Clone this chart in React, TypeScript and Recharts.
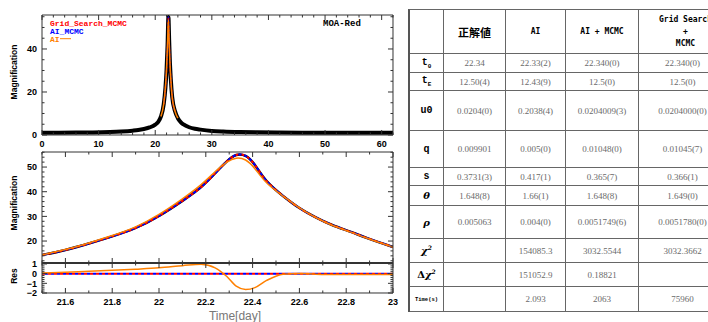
import React from 'react';
import {Line, LineChart, XAxis, YAxis} from 'recharts';

// ---- full light curve (top panel) ----
const fullTime = [0, 3, 6, 9, 12, 14, 16, 17, 18, 19, 20, 20.5, 21, 21.5, 21.8, 22, 22.18, 22.33, 22.46, 22.6, 22.74, 23, 23.5, 24, 24.5, 25, 26, 27, 28, 30, 32, 35, 38, 42, 46, 50, 55, 62];
const fullData = [1.06, 1.08, 1.11, 1.16, 1.35, 1.6, 2.0, 2.3, 2.8, 3.5, 4.8, 6.0, 8.5, 14.3, 21.9, 30.2, 41.9, 54.9, 44.3, 33.4, 26.5, 17.6, 11.0, 7.8, 6.0, 4.9, 3.6, 2.9, 2.5, 1.9, 1.6, 1.35, 1.22, 1.13, 1.08, 1.05, 1.03, 1.02];
const fullAI = [null, null, null, null, null, null, null, null, null, null, null, null, 8.6, 14.4, 22.2, 30.8, 42.9, 53.6, 43.6, 33.4, 26.4, 17.5, 11.0, 7.8, null, null, null, null, null, null, null, null, null, null, null, null, null, null];
const fullMCMC = [null, null, null, null, null, null, null, null, null, null, null, null, null, 14.3, 21.9, 30.2, 41.9, 54.9, 44.3, 33.4, 26.5, 17.6, 11.0, null, null, null, null, null, null, null, null, null, null, null, null, null, null, null];

// ---- zoom on the peak (middle panel) ----
const zoomTime = [21.5, 21.6, 21.7, 21.8, 21.9, 22.0, 22.1, 22.18, 22.24, 22.29, 22.33, 22.37, 22.41, 22.46, 22.53, 22.6, 22.67, 22.74, 22.82, 22.89, 23.0];
const zoomData = [14.3, 16.4, 19.0, 21.9, 25.3, 30.2, 36.3, 41.9, 47.5, 52.3, 54.9, 54.5, 50.8, 44.3, 38.3, 33.4, 29.6, 26.5, 23.7, 21.2, 17.6];
const zoomGrid = [14.3, 16.4, 19.0, 21.9, 25.3, 30.2, 36.3, 41.9, 47.5, 52.3, 54.9, 54.5, 50.8, 44.3, 38.3, 33.4, 29.6, 26.5, 23.7, 21.2, 17.6];
const zoomAIMCMC = [14.3, 16.4, 19.0, 21.9, 25.3, 30.2, 36.3, 41.9, 47.5, 52.3, 54.9, 54.5, 50.8, 44.3, 38.3, 33.4, 29.6, 26.5, 23.7, 21.2, 17.6];
const zoomAI = [14.37, 16.55, 19.24, 22.24, 25.76, 30.8, 37.12, 42.88, 48.1, 52.0, 53.6, 52.85, 49.35, 43.6, 38.25, 33.42, 29.55, 26.42, 23.6, 21.1, 17.52];

// ---- residuals (bottom panel) ----
const resAI = [0.07, 0.15, 0.24, 0.34, 0.46, 0.6, 0.82, 0.98, 0.6, -0.3, -1.3, -1.65, -1.45, -0.7, -0.05, 0.02, -0.05, -0.08, -0.1, -0.1, -0.08];
const resGrid = [0, 0, 0, 0, 0, 0, 0, 0, 0, 0, 0, 0, 0, 0, 0, 0, 0, 0, 0, 0, 0];
const resAIMCMC = [0, 0, 0, 0, 0, 0, 0, 0, 0, 0, 0, 0, 0, 0, 0, 0, 0, 0, 0, 0, 0];

// ---- ticks ----
const fullXMajor = [0, 10, 20, 30, 40, 50, 60];
const fullYMajor = [0, 20, 40];
const zoomXMajor = [21.6, 21.8, 22, 22.2, 22.4, 22.6, 22.8, 23];
const zoomYMajor = [20, 30, 40, 50];
const resYMajor = [-2, -1, 0, 1];

// ---- table ----
const colHeads = ['', '正解値', 'AI', 'AI + MCMC', 'Grid Search\n+\nMCMC'];
const paramNames = ['t0', 'tE', 'u0', 'q', 's', 'θ', 'ρ', 'χ2', 'Δχ2', 'Time(s)'];
const trueValues = ['22.34', '12.50(4)', '0.0204(0)', '0.009901', '0.3731(3)', '1.648(8)', '0.005063', '', '', ''];
const aiValues = ['22.33(2)', '12.43(9)', '0.2038(4)', '0.005(0)', '0.417(1)', '1.66(1)', '0.004(0)', '154085.3', '151052.9', '2.093'];
const aiMcmcValues = ['22.340(0)', '12.5(0)', '0.0204009(3)', '0.01048(0)', '0.365(7)', '1.648(8)', '0.0051749(6)', '3032.5544', '0.18821', '2063'];
const gridValues = ['22.340(0)', '12.5(0)', '0.0204000(0)', '0.01045(7)', '0.366(1)', '1.649(0)', '0.0051780(0)', '3032.3662', '', '75960'];

const colWidths = [34, 62, 60, 73, 94];
const rowHeights = [44, 19, 18, 40, 37, 18, 20, 33, 24, 24, 25];

const W = 400;
const H = 322;
const PLOT_LEFT = 42;
const PLOT_RIGHT = 393;
const THIN = 0.01;
const axisStroke = '#333';
const tickFont: React.CSSProperties = {fontFamily: 'Liberation Sans', fontWeight: 700, fontSize: 9, fill: '#000'};

const range = (a: number, b: number, step: number) => {
    const out: number[] = [];
    for (let v = a; v <= b + 1e-9; v += step) out.push(Math.round(v * 1000) / 1000);
    return out;
};
const merge = (a: number[], b: number[]) =>
    Array.from(new Set([...a, ...b].map(v => Math.round(v * 1000) / 1000))).sort((x, y) => x - y);

type Side = 'bottom' | 'top' | 'left' | 'right';

// inward ticks on every side, longer for major ones, like the plotting package of the original
const tickFactory = (side: Side, majors: number[], label: boolean, fmt: (v: number) => string = String) =>
    (p: any) => {
        const v = Number(p.payload.value);
        const major = majors.some(m => Math.abs(m - v) < 1e-6);
        const len = major ? 5 : 2.5;
        const dx = side === 'left' ? len : side === 'right' ? -len : 0;
        const dy = side === 'bottom' ? -len : side === 'top' ? len : 0;
        return (
            <g>
                <line x1={p.x} y1={p.y} x2={p.x + dx} y2={p.y + dy} stroke={axisStroke} strokeWidth={1}/>
                {label && major && side === 'bottom' && (
                    <text x={p.x} y={p.y + 12} textAnchor="middle" style={tickFont}>{fmt(v)}</text>
                )}
                {label && major && side === 'left' && (
                    <text x={p.x - 5} y={p.y + 3.3} textAnchor="end" style={tickFont}>{fmt(v)}</text>
                )}
            </g>
        );
    };

interface PanelProps {
    rows: any[];
    plotTop: number;
    plotBottom: number;
    xDomain: [number, number];
    yDomain: [number, number];
    xMajor: number[];
    xMinorStep: number;
    yMajor: number[];
    yMinorStep: number;
    xLabels: boolean;
    yFmt?: (v: number) => string;
    topWidth?: number;
    bottomWidth?: number;
    hiddenKey: string;
    children: React.ReactNode;
}

const Panel = (props: PanelProps) => {
    const {rows, plotTop, plotBottom, xDomain, yDomain, xMajor, yMajor, hiddenKey} = props;
    const xTicks = merge(xMajor, range(xDomain[0], xDomain[1], props.xMinorStep));
    const yTicks = merge(yMajor, range(Math.ceil(yDomain[0] / props.yMinorStep) * props.yMinorStep, yDomain[1], props.yMinorStep));
    const common = {type: 'number' as const, allowDataOverflow: true, interval: 0, tickSize: 0, tickMargin: 0, tickLine: false};
    return (
        <LineChart width={W} height={H} data={rows}
                   margin={{top: plotTop, right: W - PLOT_RIGHT, bottom: H - plotBottom, left: PLOT_LEFT}}>
            <XAxis xAxisId="b" dataKey="t" domain={xDomain} ticks={xTicks} height={THIN} {...common}
                   axisLine={{stroke: axisStroke, strokeWidth: props.bottomWidth ?? 1}}
                   tick={tickFactory('bottom', xMajor, props.xLabels)}/>
            <XAxis xAxisId="t" dataKey="t" orientation="top" domain={xDomain} ticks={xTicks} height={THIN} {...common}
                   axisLine={{stroke: axisStroke, strokeWidth: props.topWidth ?? 1}}
                   tick={tickFactory('top', xMajor, false)}/>
            <YAxis yAxisId="l" domain={yDomain} ticks={yTicks} width={THIN} {...common}
                   axisLine={{stroke: axisStroke, strokeWidth: 1}}
                   tick={tickFactory('left', yMajor, true, props.yFmt)}/>
            <YAxis yAxisId="r" orientation="right" domain={yDomain} ticks={yTicks} width={THIN} {...common}
                   axisLine={{stroke: axisStroke, strokeWidth: 1}}
                   tick={tickFactory('right', yMajor, false)}/>
            <Line xAxisId="t" yAxisId="r" dataKey={hiddenKey} stroke="none" dot={false} isAnimationActive={false}/>
            {props.children}
        </LineChart>
    );
};

const fullRows = fullTime.map((t, i) => ({t, data: fullData[i], ai: fullAI[i], mcmc: fullMCMC[i]}));
const zoomRows = zoomTime.map((t, i) => ({
    t, data: zoomData[i], grid: zoomGrid[i], aimcmc: zoomAIMCMC[i], ai: zoomAI[i],
    rGrid: resGrid[i], rAIMCMC: resAIMCMC[i], rAI: resAI[i]
}));

const ORANGE = '#ff8000';
const lineBase = {xAxisId: 'b', yAxisId: 'l', type: 'monotone' as const, dot: false, isAnimationActive: false};
const smoothBase = {...lineBase, type: 'natural' as const};

const minus = (v: number) => (v < 0 ? '\u2212' + Math.abs(v) : String(v));

const labelFor = (name: string) => {
    const mono: React.CSSProperties = {fontFamily: 'Liberation Mono', fontWeight: 700, fontSize: 10};
    const greek: React.CSSProperties = {fontFamily: 'DejaVu Serif', fontWeight: 700, fontStyle: 'italic', fontSize: 10};
    if (name === 't0') return <span style={mono}>t<sub style={{fontSize: 6}}>0</sub></span>;
    if (name === 'tE') return <span style={mono}>t<sub style={{fontSize: 6}}>E</sub></span>;
    if (name === 'χ2') return <span style={greek}>χ<sup style={{fontSize: 6}}>2</sup></span>;
    if (name === 'Δχ2') return <span style={greek}><span style={{fontStyle: 'normal'}}>Δ</span>χ<sup style={{fontSize: 6}}>2</sup></span>;
    if (name === 'θ' || name === 'ρ') return <span style={greek}>{name}</span>;
    if (name === 'Time(s)') return <span style={{...mono, fontSize: 5.5}}>{name}</span>;
    return <span style={mono}>{name}</span>;
};

const ResultTable = () => {
    const border = '1.5px solid #666';
    const cells: React.ReactNode[] = [];
    colHeads.forEach((h, c) => {
        cells.push(
            <div key={'h' + c} style={{
                borderRight: border, borderBottom: border, display: 'flex', alignItems: 'center', justifyContent: 'center',
                textAlign: 'center', whiteSpace: 'pre', lineHeight: '12px',
                fontFamily: c === 1 ? '"Noto Sans CJK JP"' : 'DejaVu Sans Mono', fontWeight: 700, fontSize: c === 1 ? 11 : 8
            }}>{h}</div>
        );
    });
    paramNames.forEach((name, r) => {
        const vals = [trueValues[r], aiValues[r], aiMcmcValues[r], gridValues[r]];
        cells.push(
            <div key={'p' + r} style={{borderRight: border, borderBottom: border, display: 'flex', alignItems: 'center', justifyContent: 'center'}}>
                {labelFor(name)}
            </div>
        );
        vals.forEach((v, c) => {
            cells.push(
                <div key={'v' + r + '-' + c} style={{
                    borderRight: border, borderBottom: border, display: 'flex', alignItems: 'center', justifyContent: 'center',
                    fontFamily: 'Liberation Serif', fontSize: 9, color: '#6a6a6a', paddingRight: c === 3 ? 6 : 0
                }}>{v}</div>
            );
        });
    });
    return (
        <div style={{
            position: 'absolute', left: 408, top: 9, display: 'grid', boxSizing: 'border-box',
            gridTemplateColumns: colWidths.map(w => w + 'px').join(' '),
            gridTemplateRows: rowHeights.map(h => h + 'px').join(' '),
            borderTop: '1.5px solid #666', borderLeft: '2px solid #555'
        }}>
            {cells}
        </div>
    );
};

export default function App() {
    const legendFont = {fontFamily: 'Liberation Mono', fontWeight: 700, fontSize: 8};
    const axisTitle = {fontFamily: 'Liberation Sans', fontWeight: 700, fontSize: 8.5, fill: '#000'};
    return (
        <div style={{position: 'fixed', left: 0, top: 0, width: 708, height: 322, background: '#fff', overflow: 'hidden'}}>
            <div style={{position: 'absolute', left: 0, top: 0}}>
                <Panel rows={fullRows} plotTop={15} plotBottom={135} xDomain={[0, 62]} yDomain={[0, 55.8]}
                       xMajor={fullXMajor} xMinorStep={2} yMajor={fullYMajor} yMinorStep={5} xLabels hiddenKey="data">
                    <Line {...lineBase} dataKey="data" stroke="#000" strokeWidth={4}/>
                    <Line {...lineBase} dataKey="mcmc" stroke="#ff0000" strokeWidth={1.5} strokeDasharray="2 2"/>
                    <Line {...lineBase} dataKey="mcmc" stroke="#0000ff" strokeWidth={1.5} strokeDasharray="2 2" strokeDashoffset={2}/>
                    <Line {...lineBase} dataKey="ai" stroke={ORANGE} strokeWidth={1.5}/>
                </Panel>
            </div>
            <div style={{position: 'absolute', left: 0, top: 0}}>
                <Panel rows={zoomRows} plotTop={152} plotBottom={263} xDomain={[21.5, 23]} yDomain={[11.1, 56.1]}
                       xMajor={zoomXMajor} xMinorStep={0.1} yMajor={zoomYMajor} yMinorStep={2} xLabels={false}
                       bottomWidth={2} hiddenKey="data">
                    <Line {...smoothBase} dataKey="data" stroke="#000" strokeWidth={2.5}/>
                    <Line {...smoothBase} dataKey="grid" stroke="#ff0000" strokeWidth={2} strokeDasharray="3 3"/>
                    <Line {...smoothBase} dataKey="aimcmc" stroke="#0000ff" strokeWidth={2} strokeDasharray="3 3" strokeDashoffset={3}/>
                    <Line {...smoothBase} dataKey="ai" stroke={ORANGE} strokeWidth={1.5}/>
                </Panel>
            </div>
            <div style={{position: 'absolute', left: 0, top: 0}}>
                <Panel rows={zoomRows} plotTop={263} plotBottom={293} xDomain={[21.5, 23]} yDomain={[-2, 1.1]}
                       xMajor={zoomXMajor} xMinorStep={0.1} yMajor={resYMajor} yMinorStep={0.2} xLabels
                       yFmt={minus} topWidth={2} hiddenKey="rGrid">
                    <Line {...lineBase} dataKey="rGrid" stroke="#ff0000" strokeWidth={2} strokeDasharray="3 3"/>
                    <Line {...lineBase} dataKey="rAIMCMC" stroke="#0000ff" strokeWidth={2} strokeDasharray="3 3" strokeDashoffset={3}/>
                    <Line {...lineBase} dataKey="rAI" stroke={ORANGE} strokeWidth={1.5}/>
                </Panel>
            </div>
            <svg width={W} height={H} style={{position: 'absolute', left: 0, top: 0}}>
                <text x={50} y={25.5} style={{...legendFont, fill: '#ff0000'}}>Grid_Search_MCMC</text>
                <text x={50} y={33.5} style={{...legendFont, fill: '#0000ff'}}>AI_MCMC</text>
                <text x={50} y={41.5} style={{...legendFont, fill: ORANGE}}>AI</text>
                <line x1={60} y1={38.7} x2={71} y2={38.7} stroke={ORANGE} strokeWidth={1}/>
                <text x={323} y={26} style={{fontFamily: 'Liberation Mono', fontWeight: 700, fontSize: 9, fill: '#000'}}>MOA-Red</text>
                <text x={15} y={72} transform="rotate(-90 15 72)" textAnchor="middle" dominantBaseline="middle" style={axisTitle}>Magnification</text>
                <text x={15} y={203} transform="rotate(-90 15 203)" textAnchor="middle" dominantBaseline="middle" style={axisTitle}>Magnification</text>
                <text x={15} y={276} transform="rotate(-90 15 276)" textAnchor="middle" dominantBaseline="middle" style={axisTitle}>Res</text>
                <text x={235} y={320} textAnchor="middle" style={{fontFamily: 'Liberation Sans', fontSize: 12, fill: '#777'}}>Time[day]</text>
            </svg>
            <ResultTable/>
        </div>
    );
}
